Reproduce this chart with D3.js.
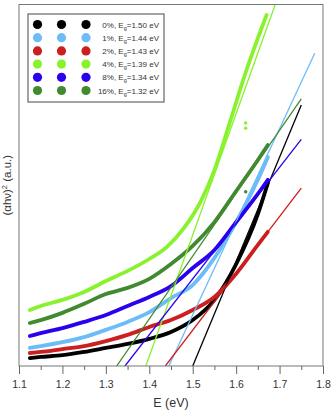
<!DOCTYPE html>
<html>
<head>
<meta charset="utf-8">
<script src="https://cdn.jsdelivr.net/npm/d3@7"></script>
<style>
  body { margin: 0; background: #fff; }
  text { font-family: "Liberation Sans", Arial, sans-serif; }
</style>
</head>
<body>
<div id="chart"></div>
<script>
// samples (photon energy, eV)
var energy = [1.125, 1.15, 1.2, 1.25, 1.3, 1.35, 1.4, 1.45, 1.5, 1.55, 1.6, 1.65, 1.673];
var energyGreen = [1.125, 1.15, 1.2, 1.25, 1.3, 1.35, 1.4, 1.44, 1.48, 1.52, 1.55, 1.585, 1.62, 1.65, 1.67];

// (alpha h nu)^2, arbitrary units
var y0 = [0.22, 0.25, 0.30, 0.39, 0.50, 0.61, 0.75, 0.94, 1.27, 1.83, 2.82, 4.20, 5.06];
var y1 = [0.50, 0.55, 0.66, 0.80, 1.00, 1.22, 1.49, 1.88, 2.24, 2.99, 3.98, 5.15, 5.78];
var y2 = [0.36, 0.39, 0.47, 0.55, 0.69, 0.86, 1.08, 1.27, 1.55, 1.91, 2.55, 3.35, 3.71];
var y4 = [1.55, 1.66, 1.83, 2.05, 2.35, 2.63, 2.96, 3.29, 3.82, 4.59, 5.42, 6.72, 8.05, 9.07, 9.71];
var y8 = [0.83, 0.91, 1.05, 1.22, 1.41, 1.66, 1.91, 2.21, 2.71, 3.21, 3.98, 4.76, 5.15];
var y16 = [1.19, 1.27, 1.47, 1.72, 1.99, 2.16, 2.41, 2.82, 3.32, 3.98, 4.84, 5.70, 6.11];

// stray points
var strayE = [1.622, 1.622, 1.622];
var strayY = [6.72, 6.58, 4.82];
var strayKey = ["4", "4", "16"];

// tangent fits: x-intercept and end of the drawn line
var fitStart = [1.500, 1.445, 1.437, 1.392, 1.344, 1.325];
var fitEndE = [1.750, 1.781, 1.750, 1.690, 1.750, 1.750];
var fitEndY = [7.22, 8.65, 4.92, 10.0, 6.27, 7.39];

var labels = ["0%", "1%", "2%", "4%", "8%", "16%"];
var gaps = ["1.50", "1.44", "1.43", "1.39", "1.34", "1.32"];
var keys = ["0", "1", "2", "4", "8", "16"];
var colors = ["#000000", "#6cbcf8", "#cc1f1f", "#88f22c", "#2a00ee", "#428a30"];

var xTicks = [1.1, 1.2, 1.3, 1.4, 1.5, 1.6, 1.7, 1.8];

var series = [
  { key: "0", e: energy, v: y0 },
  { key: "1", e: energy, v: y1 },
  { key: "2", e: energy, v: y2 },
  { key: "16", e: energy, v: y16 },
  { key: "8", e: energy, v: y8 },
  { key: "4", e: energyGreen, v: y4 }
];

var W = 331, H = 411;
var margin = { top: 4.5, right: 8, bottom: 45, left: 19 };
var width = W - margin.left - margin.right,
  height = H - margin.top - margin.bottom;

var color = d3.scaleOrdinal().domain(keys).range(colors);

var svg = d3.select("#chart").append("svg")
  .attr("width", W).attr("height", H);

var g = svg.append("g")
  .attr("transform", "translate(" + margin.left + "," + margin.top + ")");

var x = d3.scaleLinear().domain([1.1, 1.8]).range([0, width]);
var y = d3.scaleLinear().domain([0, 10]).range([height, 0]);

g.append("clipPath").attr("id", "clip")
  .append("rect").attr("width", width).attr("height", height);

var plot = g.append("g").attr("clip-path", "url(#clip)");

// data bands
var line = d3.line()
  .x(function (d) { return x(d[0]); })
  .y(function (d) { return y(d[1]); })
  .curve(d3.curveMonotoneX);

series.forEach(function (s) {
  var pts = s.e.map(function (e, i) { return [e, s.v[i]]; });
  plot.append("path")
    .attr("d", line(pts))
    .attr("fill", "none")
    .attr("stroke", color(s.key))
    .attr("stroke-width", 3.8)
    .attr("stroke-linecap", "round")
    .attr("stroke-linejoin", "round");
});

plot.selectAll(".stray")
  .data(strayE)
  .enter().append("circle")
  .attr("class", "stray")
  .attr("cx", function (d) { return x(d); })
  .attr("cy", function (d, i) { return y(strayY[i]); })
  .attr("r", 1.7)
  .attr("fill", function (d, i) { return color(strayKey[i]); });

// fit lines
plot.selectAll(".fit")
  .data(keys)
  .enter().append("line")
  .attr("class", "fit")
  .attr("x1", function (d, i) { return x(fitStart[i]); })
  .attr("y1", y(0))
  .attr("x2", function (d, i) { return x(fitEndE[i]); })
  .attr("y2", function (d, i) { return y(fitEndY[i]); })
  .attr("stroke", function (d) { return color(d); })
  .attr("stroke-width", 1.3);

// frame
g.append("rect")
  .attr("width", width).attr("height", height)
  .attr("fill", "none").attr("stroke", "#777").attr("stroke-width", 1);

// x axis with minor ticks
var xAxis = g.append("g").attr("transform", "translate(0," + height + ")");
xAxis.call(d3.axisBottom(x).tickValues(xTicks).tickSize(8).tickFormat(d3.format(".1f")));
xAxis.append("g").call(d3.axisBottom(x)
  .tickValues(xTicks.slice(0, -1).map(function (t) { return t + 0.05; }))
  .tickSize(4).tickFormat(""));
xAxis.selectAll(".domain").remove();
xAxis.selectAll("line").attr("stroke", "#666");
xAxis.selectAll("text")
  .attr("font-size", 10.5).attr("fill", "#333").attr("dy", "1.05em");

g.append("text")
  .attr("x", width / 2).attr("y", height + 41)
  .attr("text-anchor", "middle").attr("font-size", 12.5).attr("fill", "#333")
  .text("E (eV)");

var yl = g.append("text")
  .attr("transform", "translate(-8," + (height / 2) + ") rotate(-90)")
  .attr("text-anchor", "middle").attr("font-size", 11.5).attr("fill", "#333");
yl.append("tspan").text("(αhν)");
yl.append("tspan").attr("font-size", 7.5).attr("dy", -4.5).text("2");
yl.append("tspan").attr("dy", 4.5).text(" (a.u.)");

// legend
var leg = g.append("g").attr("transform", "translate(9,9.5)");
leg.append("rect")
  .attr("width", 136).attr("height", 88)
  .attr("fill", "#fff").attr("stroke", "#666").attr("stroke-width", 1.2);

var rows = leg.selectAll(".row").data(keys).enter().append("g")
  .attr("class", "row")
  .attr("transform", function (d, i) { return "translate(0," + (10.5 + i * 13.2) + ")"; });

[9.5, 33.5, 58].forEach(function (cx) {
  rows.append("circle")
    .attr("cx", cx).attr("cy", 0).attr("r", 4.6)
    .attr("fill", function (d) { return color(d); });
});

var lt = rows.append("text")
  .attr("x", 131).attr("y", 3)
  .attr("text-anchor", "end").attr("font-size", 8).attr("fill", "#333");
lt.append("tspan").text(function (d, i) { return labels[i] + ", E"; });
lt.append("tspan").attr("font-size", 5.5).attr("dy", 2.2).text("g");
lt.append("tspan").attr("dy", -2.2).text(function (d, i) { return "=" + gaps[i] + " eV"; });
</script>
</body>
</html>
